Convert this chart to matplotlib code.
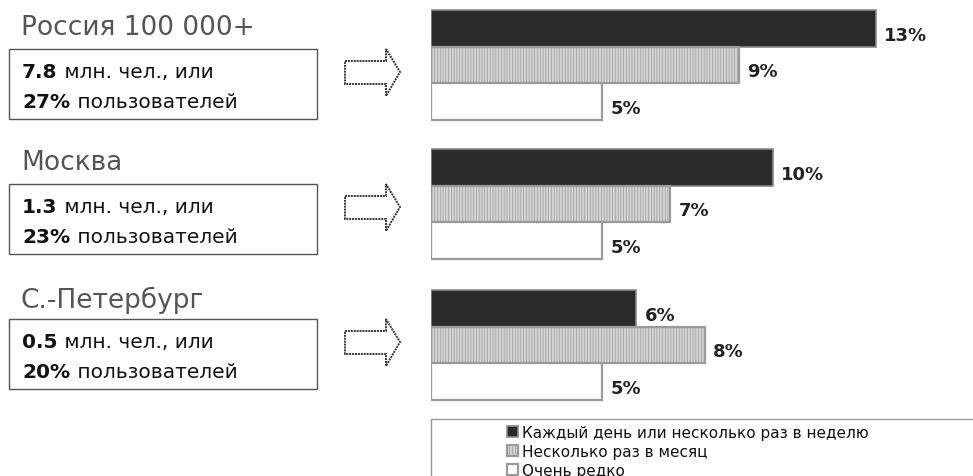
import matplotlib
matplotlib.use("Agg")
import matplotlib.pyplot as plt
from matplotlib.patches import Rectangle, Polygon

plt.rcParams['font.family'] = ['DejaVu Sans']
plt.rcParams['hatch.color'] = '#b0b0b0'
plt.rcParams['hatch.linewidth'] = 0.5

# Regions and audience figures
regions = ["Россия 100 000+", "Москва", "С.-Петербург"]
audience_mln = ["7.8", "1.3", "0.5"]
audience_share = ["27%", "23%", "20%"]

# Frequency series (percent of users) per region
series_names = ["Каждый день или несколько раз в неделю",
                "Несколько раз в месяц",
                "Очень редко"]
daily = [13, 10, 6]
monthly = [9, 7, 8]
rarely = [5, 5, 5]

W, H = 973, 477
fig = plt.figure(figsize=(W / 100, H / 100), dpi=100)
fig.patch.set_facecolor('white')

# Overlay axes in pixel units for the left-hand blocks
ov = fig.add_axes([0, 0, 1, 1])
ov.set_xlim(0, W)
ov.set_ylim(H, 0)
ov.axis('off')

# Bar axes: x in percent, y in pixel rows
bar_left_px = 431
px_per_pct = 34.2
ax = fig.add_axes([bar_left_px / W, 0, (W - bar_left_px) / W, 1])
ax.set_xlim(0, (W - bar_left_px) / px_per_pct)
ax.set_ylim(H, 0)
ax.axis('off')

group_tops = [11, 150, 291]
bar_h = 36.6
styles = [
    dict(color='#2a2a2a', edgecolor='#8a8a8a', linewidth=1.2),
    dict(color='#d4d4d4', edgecolor='#9a9a9a', linewidth=1.6, hatch='||||||'),
    dict(color='white', edgecolor='#9a9a9a', linewidth=1.6),
]
all_series = [daily, monthly, rarely]
containers = []
for s, (vals, st) in enumerate(zip(all_series, styles)):
    centers = [t + bar_h * (s + 0.5) for t in group_tops]
    bc = ax.barh(centers, vals, height=bar_h, left=0, label=series_names[s], **st)
    containers.append(bc)
    for c, v in zip(centers, vals):
        ax.annotate(f"{v}%", xy=(v, c), xytext=(6, -4.5), textcoords='offset points',
                    ha='left', va='center', fontsize=13, fontweight='bold',
                    color='#222222')

# Left-hand titles, boxes and arrows
title_y = [28, 163, 300]
box_tops = [50, 185, 320]
box_h = 70
renderer = fig.canvas.get_renderer()
for i in range(3):
    ov.text(21, title_y[i], regions[i], fontsize=19, color='#555555',
            ha='left', va='center')
    top = box_tops[i]
    ov.add_patch(Rectangle((9, top), 308, box_h, facecolor='white',
                           edgecolor='#555555', linewidth=1.0))
    lines = [(audience_mln[i], " млн. чел., или"),
             (audience_share[i], " пользователей")]
    for j, (bold, rest) in enumerate(lines):
        y = top + 23 + 30 * j
        t = ov.text(22, y, bold, fontsize=14.5, fontweight='bold', color='#111111',
                    ha='left', va='center')
        bb = t.get_window_extent(renderer=renderer)
        ov.text(bb.x1 + 1, y, rest, fontsize=14.5, color='#111111',
                ha='left', va='center')
    tip = top + 23
    pts = [(345, tip - 11), (386, tip - 11), (386, tip - 23), (400, tip),
           (386, tip + 24), (386, tip + 12), (345, tip + 12)]
    ov.add_patch(Polygon(pts, closed=True, facecolor='white', edgecolor='#333333',
                         linewidth=1.4, linestyle=(0, (1, 0.5))))

# Legend frame and entries
ov.add_patch(Rectangle((431, 420), 560, 70, facecolor='white',
                       edgecolor='#9a9a9a', linewidth=1.0))
leg = fig.legend(handles=containers, loc='upper left',
                 bbox_to_anchor=(507 / W, 1 - 426 / H), frameon=False,
                 fontsize=11, handlelength=0.7, handleheight=0.7,
                 handletextpad=0.3, labelspacing=0.25, borderpad=0,
                 borderaxespad=0)
for t in leg.get_texts():
    t.set_color('#111111')

fig.savefig("out.png", dpi=100, facecolor='white')
